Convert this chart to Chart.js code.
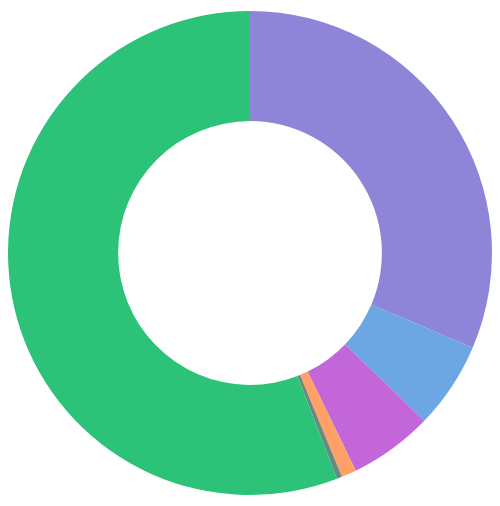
<!DOCTYPE html>
<html>
<head>
<meta charset="utf-8">
<script src="https://cdn.jsdelivr.net/npm/chart.js@4/dist/chart.umd.min.js"></script>
<style>
  html, body { margin: 0; padding: 0; background: #ffffff; }
  #wrap { width: 500px; height: 506px; position: relative; }
</style>
</head>
<body>
<div id="wrap"><canvas id="c"></canvas></div>
<script>
const categories = ["A", "B", "C", "D", "E", "F"];
const values = [31.4, 5.8, 5.6, 1.0, 0.35, 55.85];
const colors = ["#8E85D9", "#6CA6E3", "#C366D9", "#FFA066", "#6A8A80", "#2CC277"];

new Chart(document.getElementById("c"), {
  type: "doughnut",
  data: {
    labels: categories,
    datasets: [{
      data: values,
      backgroundColor: colors,
      borderWidth: 0,
      hoverOffset: 0
    }]
  },
  options: {
    responsive: true,
    maintainAspectRatio: false,
    animation: false,
    cutout: "54.5%",
    layout: { padding: { left: 8, right: 8, top: 11, bottom: 11 } },
    plugins: {
      legend: { display: false },
      tooltip: { enabled: false }
    }
  }
});
</script>
</body>
</html>
